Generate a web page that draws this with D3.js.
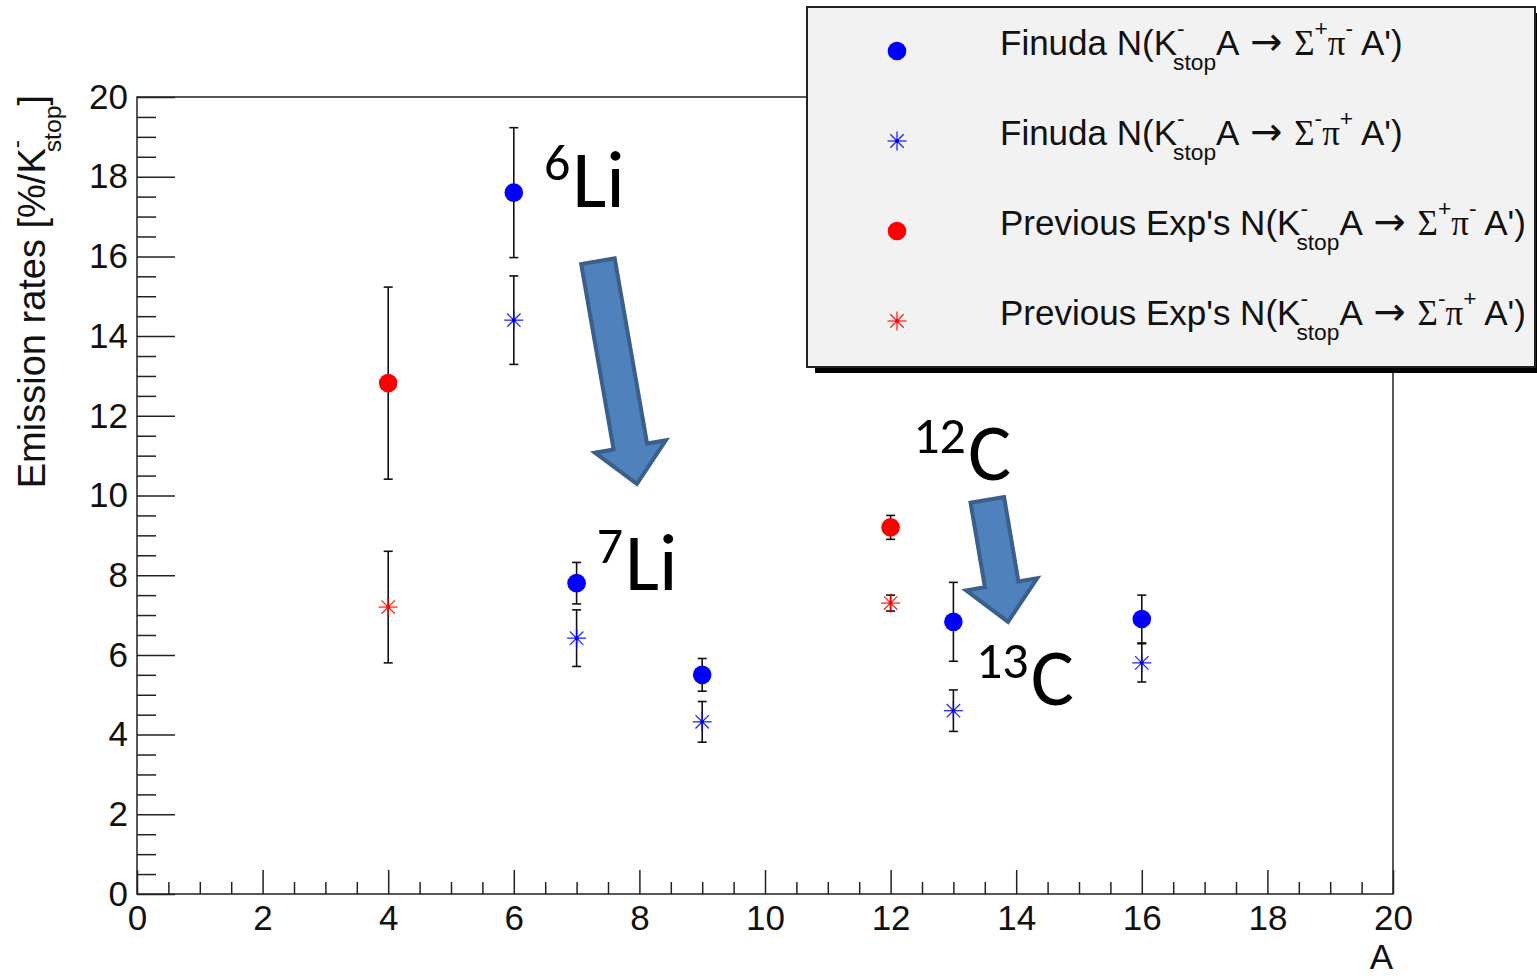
<!DOCTYPE html>
<html>
<head>
<meta charset="utf-8">
<script src="https://cdn.jsdelivr.net/npm/d3@7"></script>
<style>
  html, body { margin: 0; padding: 0; background: #fff; }
  svg { display: block; }
</style>
</head>
<body>
<svg id="chart" width="1537" height="976"></svg>
<script>
// ---------------- data ----------------
const xTickValues = [0, 2, 4, 6, 8, 10, 12, 14, 16, 18, 20];
const yTickValues = [0, 2, 4, 6, 8, 10, 12, 14, 16, 18, 20];

// FINUDA
const finudaA = [6, 7, 9, 13, 16];
const finudaSpPm = [17.6, 7.8, 5.5, 6.83, 6.9];      // Sigma+ pi-
const finudaSpPmErr = [1.63, 0.52, 0.41, 0.99, 0.6];
const finudaSmPp = [14.4, 6.42, 4.32, 4.6, 5.8];     // Sigma- pi+
const finudaSmPpErr = [1.11, 0.71, 0.51, 0.52, 0.48];

// Previous experiments
const prevA = [4, 12];
const prevSpPm = [12.82, 9.2];
const prevSpPmErr = [2.41, 0.3];
const prevSmPp = [7.2, 7.3];
const prevSmPpErr = [1.4, 0.2];

// Annotations (data coordinates of text start / baseline)
const annoLabels = [
  { sup: "6", base: "Li", A: 6.48, v: 17.24 },
  { sup: "7", base: "Li", A: 7.32, v: 7.63 },
  { sup: "12", base: "C", A: 12.36, v: 10.39 },
  { sup: "13", base: "C", A: 13.36, v: 4.74 }
];
const annoArrows = [
  { from: [7.34, 15.88], to: [7.96, 10.29] },
  { from: [13.54, 9.89], to: [13.87, 6.83] }
];

// ---------------- setup ----------------
const svg = d3.select("#chart");
const FONT = "'Liberation Sans', Arial, Helvetica, sans-serif";
const SERIF = "'Liberation Serif', 'Times New Roman', serif";
const ARROWF = "'DejaVu Sans', sans-serif";
const L = 137, R = 1393, T = 97, B = 894;
const x = d3.scaleLinear().domain([0, 20]).range([L, R]);
const y = d3.scaleLinear().domain([0, 20]).range([B, T]);
const minorVals = d3.range(0, 20.001, 0.5).filter(v => Math.abs(v % 2) > 1e-6);

// y axis (ticks pointing inward)
const gy = svg.append("g").attr("transform", `translate(${L},0)`);
gy.call(d3.axisLeft(y).tickValues(yTickValues).tickSize(-38).tickSizeOuter(0).tickPadding(9).tickFormat(d3.format("d")));
const gyMin = svg.append("g").attr("transform", `translate(${L},0)`);
gyMin.call(d3.axisLeft(y).tickValues(minorVals).tickSize(-19).tickSizeOuter(0).tickFormat(""));

// x axis
const gx = svg.append("g").attr("transform", `translate(0,${B})`);
gx.call(d3.axisBottom(x).tickValues(xTickValues).tickSize(-24).tickSizeOuter(0).tickPadding(11).tickFormat(d3.format("d")));
const gxMin = svg.append("g").attr("transform", `translate(0,${B})`);
gxMin.call(d3.axisBottom(x).tickValues(minorVals).tickSize(-12).tickSizeOuter(0).tickFormat(""));

svg.selectAll(".domain").remove();
svg.selectAll(".tick line").attr("stroke", "#222").attr("stroke-width", 1.5);
svg.selectAll(".tick text").attr("font-family", FONT).attr("font-size", 35).attr("fill", "#111");

// frame
svg.append("rect").attr("x", L).attr("y", T).attr("width", R - L).attr("height", B - T)
  .attr("fill", "none").attr("stroke", "#222").attr("stroke-width", 1.5);

// ---------------- rich text helper ----------------
function rich(g, x0, y0, parts, size) {
  const small = size * 0.65;
  let cx = x0;
  const fill = "#111";
  parts.forEach(p => {
    if (p.gap !== undefined) { cx += p.gap; return; }
    if (p.t !== undefined) {
      const t = g.append("text").attr("x", cx).attr("y", y0).attr("font-family", p.f || FONT)
        .attr("font-size", size * (p.s || 1)).attr("fill", fill).attr("xml:space", "preserve").text(p.t);
      cx += t.node().getComputedTextLength();
    } else {
      let w = 0;
      if (p.sup !== undefined) {
        const t = g.append("text").attr("x", cx).attr("y", y0 - size * 0.55).attr("font-family", FONT)
          .attr("font-size", small).attr("fill", fill).attr("xml:space", "preserve").text(p.sup);
        w = Math.max(w, t.node().getComputedTextLength());
      }
      if (p.sub !== undefined) {
        const t = g.append("text").attr("x", cx - 4).attr("y", y0 + size * 0.43).attr("font-family", FONT)
          .attr("font-size", small).attr("fill", fill).attr("xml:space", "preserve").text(p.sub);
        w = Math.max(w, t.node().getComputedTextLength() - 4);
      }
      cx += w;
    }
  });
  return cx;
}

// axis titles
const yt = svg.append("g");
const ytParts = [{ t: "Emission rates [%/K" }, { sup: "-", sub: "stop" }, { t: "]" }];
const endX = rich(yt, 0, 0, ytParts, 38);
yt.attr("transform", `translate(45,${T + endX - 2}) rotate(-90)`);

svg.append("text").attr("x", R).attr("y", 969).attr("text-anchor", "end")
  .attr("font-family", FONT).attr("font-size", 35).attr("fill", "#111").text("A");

// ---------------- error bars & markers ----------------
const BLUE = "#0000ff", RED = "#ff0000";
function errorBars(A, V, E) {
  const g = svg.append("g").attr("stroke", "#111").attr("stroke-width", 1.6).attr("fill", "none");
  A.forEach((a, i) => {
    const cx = x(a), y1 = y(V[i] + E[i]), y2 = y(V[i] - E[i]);
    g.append("line").attr("x1", cx).attr("x2", cx).attr("y1", y1).attr("y2", y2);
    g.append("line").attr("x1", cx - 4.5).attr("x2", cx + 4.5).attr("y1", y1).attr("y2", y1);
    g.append("line").attr("x1", cx - 4.5).attr("x2", cx + 4.5).attr("y1", y2).attr("y2", y2);
  });
}
function dot(g, cx, cy, color) {
  g.append("circle").attr("cx", cx).attr("cy", cy).attr("r", 9.3).attr("fill", color);
}
function star(g, cx, cy, color) {
  const r = 9.5, d = r * 0.7071;
  const s = g.append("g").attr("stroke", color).attr("stroke-width", 1.3).attr("opacity", 0.85);
  s.append("line").attr("x1", cx - r).attr("x2", cx + r).attr("y1", cy).attr("y2", cy);
  s.append("line").attr("x1", cx).attr("x2", cx).attr("y1", cy - r).attr("y2", cy + r);
  s.append("line").attr("x1", cx - d).attr("x2", cx + d).attr("y1", cy - d).attr("y2", cy + d);
  s.append("line").attr("x1", cx - d).attr("x2", cx + d).attr("y1", cy + d).attr("y2", cy - d);
  g.append("circle").attr("cx", cx).attr("cy", cy).attr("r", 2).attr("fill", color);
}
errorBars(finudaA, finudaSpPm, finudaSpPmErr);
errorBars(finudaA, finudaSmPp, finudaSmPpErr);
errorBars(prevA, prevSpPm, prevSpPmErr);
errorBars(prevA, prevSmPp, prevSmPpErr);

const gm = svg.append("g");
finudaA.forEach((a, i) => dot(gm, x(a), y(finudaSpPm[i]), BLUE));
finudaA.forEach((a, i) => star(gm, x(a), y(finudaSmPp[i]), BLUE));
prevA.forEach((a, i) => dot(gm, x(a), y(prevSpPm[i]), RED));
prevA.forEach((a, i) => star(gm, x(a), y(prevSmPp[i]), RED));

// ---------------- annotation arrows ----------------
const ga = svg.append("g");
annoArrows.forEach(ar => {
  const x1 = x(ar.from[0]), y1 = y(ar.from[1]), x2 = x(ar.to[0]), y2 = y(ar.to[1]);
  const len = Math.hypot(x2 - x1, y2 - y1);
  const ang = Math.atan2(y2 - y1, x2 - x1) * 180 / Math.PI;
  const sw = 17, hw = 36, hl = 38;
  const pts = [[0, -sw], [len - hl, -sw], [len - hl, -hw], [len, 0], [len - hl, hw], [len - hl, sw], [0, sw]];
  ga.append("polygon")
    .attr("points", pts.map(p => p.join(",")).join(" "))
    .attr("transform", `translate(${x1},${y1}) rotate(${ang})`)
    .attr("fill", "#4f81bd").attr("stroke", "#3a5f8b").attr("stroke-width", 4)
    .attr("stroke-linejoin", "miter");
});

// ---------------- annotation labels ----------------
const ANNO_FONT = "Carlito, Lato, 'Open Sans', sans-serif";
annoLabels.forEach(a => {
  const g = svg.append("g");
  const cx0 = x(a.A), by = y(a.v);
  const t1 = g.append("text").attr("x", cx0).attr("y", by - 27).attr("font-family", ANNO_FONT)
    .attr("font-size", 52).attr("fill", "#000").text(a.sup);
  const w = t1.node().getComputedTextLength();
  g.append("text").attr("x", cx0 + w + 2).attr("y", by).attr("font-family", ANNO_FONT)
    .attr("font-size", 81).attr("fill", "#000").text(a.base);
});

// ---------------- legend ----------------
const LX = 807, LY = 7, LW = 728, LH = 360;
svg.append("rect").attr("x", LX + 8).attr("y", LY + 6).attr("width", LW).attr("height", LH).attr("fill", "#000");
svg.append("rect").attr("x", LX).attr("y", LY).attr("width", LW).attr("height", LH)
  .attr("fill", "#f2f2f2").attr("stroke", "#222").attr("stroke-width", 2);

function legendParts(prefix, s1, s2) {
  return [
    { t: prefix + " N(K" }, { sup: "-", sub: "stop" }, { t: "A " }, { gap: 3 },
    { t: "\u2192", f: ARROWF, s: 1.1 }, { gap: 2 }, { t: " " },
    { t: "\u03A3", f: SERIF }, { sup: s1 }, { t: "\u03C0", f: SERIF }, { sup: s2 }, { t: " A')" }
  ];
}
const legendItems = [
  { marker: "dot", color: BLUE, parts: legendParts("Finuda", "+", "-") },
  { marker: "star", color: BLUE, parts: legendParts("Finuda", "-", "+") },
  { marker: "dot", color: RED, parts: legendParts("Previous Exp's", "+", "-") },
  { marker: "star", color: RED, parts: legendParts("Previous Exp's", "-", "+") }
];
const gl = svg.append("g");
legendItems.forEach((it, i) => {
  const my = 51 + i * 90;
  if (it.marker === "dot") dot(gl, 897, my, it.color); else star(gl, 897, my, it.color);
  rich(gl, 1000, my + 4, it.parts, 35);
});
</script>
</body>
</html>
